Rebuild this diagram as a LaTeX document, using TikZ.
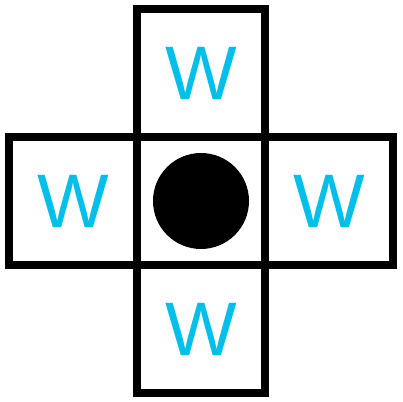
\documentclass[tikz,border=0pt]{standalone}
\usepackage{fontspec}
\usepackage{tikz}
\setmainfont{Liberation Sans}
\definecolor{wcyan}{HTML}{00BFE8}

\begin{document}
\begin{tikzpicture}[
    cell/.style={draw=black, line width=6pt, minimum size=3.2cm,
                 inner sep=0pt, font=\fontsize{54}{54}\selectfont, text=wcyan},
    stone/.style={circle, fill=black, minimum size=2.4cm, inner sep=0pt},
]
    \useasboundingbox (-5.025, -5.025) rectangle (5.025, 5.025);

    % Cells
    \node[cell] (center) at (0, 0) {};
    \node[cell] (top) at (0, 3.2) {W};
    \node[cell] (left) at (-3.2, 0) {W};
    \node[cell] (right) at (3.2, 0) {W};
    \node[cell] (bottom) at (0, -3.2) {W};

    % Stone
    \node[stone] (dot) at (center) {};
\end{tikzpicture}
\end{document}
